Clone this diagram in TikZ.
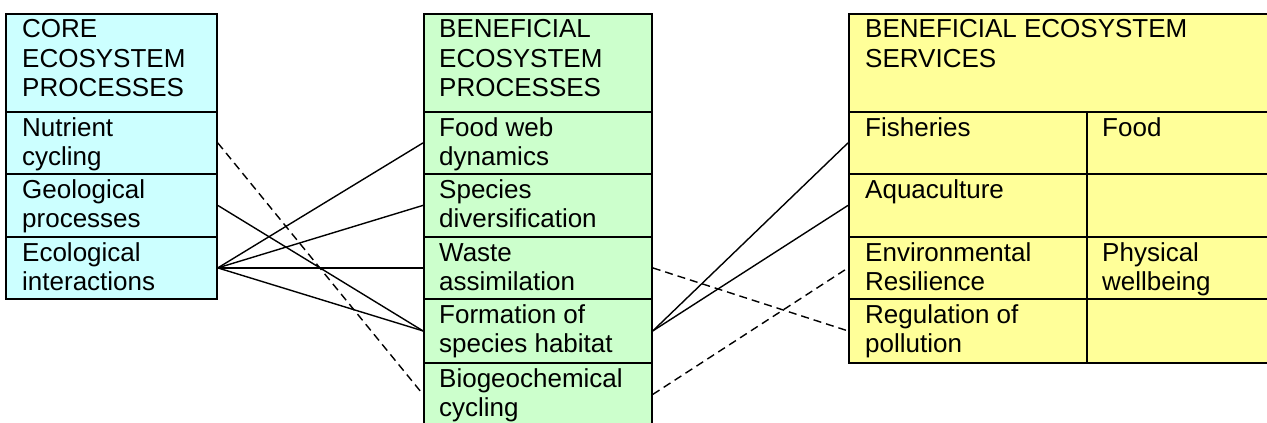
\documentclass[tikz,border=0pt]{standalone}
\usepackage{fontspec}
\setmainfont{Liberation Sans}
\definecolor{cyanfill}{HTML}{CCFFFF}
\definecolor{greenfill}{HTML}{CCFFCC}
\definecolor{yellowfill}{HTML}{FFFF99}
\newcommand{\fst}{\rule{0pt}{22pt}}
\begin{document}
\begin{tikzpicture}[x=1pt,y=-1pt,
  cell/.style={draw=black, line width=1.8pt, rectangle, inner sep=0pt, anchor=north west},
  ccell/.style={cell, fill=cyanfill, minimum width=211pt},
  gcell/.style={cell, fill=greenfill, minimum width=228pt},
  ycell/.style={cell, fill=yellowfill},
  txt/.style={anchor=north west, inner sep=0pt, align=left, font=\fontsize{26pt}{29.5pt}\selectfont},
  conn/.style={line width=1.4pt},
  dconn/.style={conn, dash pattern=on 8pt off 5pt}]
\clip (0,0) rectangle (1267,423);
% left table
\node[ccell, minimum height=98pt] (lh) at (5,13) {};
\node[ccell, minimum height=62pt] (nut) at (5,111) {};
\node[ccell, minimum height=63pt] (geo) at (5,173) {};
\node[ccell, minimum height=62pt] (eco) at (5,236) {};
\node[txt] (lht) at (22,15.3) {\fst CORE\\ECOSYSTEM\\PROCESSES};
\node[txt] (nutt) at (22,114) {\fst Nutrient\\cycling};
\node[txt] (geot) at (22,176) {\fst Geological\\processes};
\node[txt] (ecot) at (22,239) {\fst Ecological\\interactions};
% middle table
\node[gcell, minimum height=98pt] (mh) at (423,13) {};
\node[gcell, minimum height=62pt] (food) at (423,111) {};
\node[gcell, minimum height=63pt] (spec) at (423,173) {};
\node[gcell, minimum height=62pt] (waste) at (423,236) {};
\node[gcell, minimum height=64pt] (form) at (423,298) {};
\node[gcell, minimum height=63pt] (bio) at (423,362) {};
\node[txt] (mht) at (439,15.3) {\fst BENEFICIAL\\ECOSYSTEM\\PROCESSES};
\node[txt] (foodt) at (439,114) {\fst Food web\\dynamics};
\node[txt] (spect) at (439,176) {\fst Species\\diversification};
\node[txt] (wastet) at (439,239) {\fst Waste\\assimilation};
\node[txt] (formt) at (439,301) {\fst Formation of\\species habitat};
\node[txt] (biot) at (439,365) {\fst Biogeochemical\\cycling};
% right table
\node[ycell, minimum width=452pt, minimum height=98pt] (rh) at (848,13) {};
\node[ycell, minimum width=238pt, minimum height=62pt] (fish) at (848,111) {};
\node[ycell, minimum width=238pt, minimum height=63pt] (aqua) at (848,173) {};
\node[ycell, minimum width=238pt, minimum height=62pt] (env) at (848,236) {};
\node[ycell, minimum width=238pt, minimum height=64pt] (reg) at (848,298) {};
\node[ycell, minimum width=214pt, minimum height=62pt] (foodsvc) at (1086,111) {};
\node[ycell, minimum width=214pt, minimum height=63pt] (blank1) at (1086,173) {};
\node[ycell, minimum width=214pt, minimum height=62pt] (phys) at (1086,236) {};
\node[ycell, minimum width=214pt, minimum height=64pt] (blank2) at (1086,298) {};
\node[txt] (rht) at (865,15.3) {\fst BENEFICIAL ECOSYSTEM\\SERVICES};
\node[txt] (fisht) at (865,114) {\fst Fisheries};
\node[txt] (aquat) at (865,176) {\fst Aquaculture};
\node[txt] (envt) at (865,239) {\fst Environmental\\Resilience};
\node[txt] (regt) at (865,301) {\fst Regulation of\\pollution};
\node[txt] (foodsvct) at (1102,114) {\fst Food};
\node[txt] (physt) at (1102,239) {\fst Physical\\wellbeing};
% connectors
\draw[conn] (eco.east) -- (food.west);
\draw[conn] (eco.east) -- (spec.west);
\draw[conn] (eco.east) -- (waste.west);
\draw[conn] (eco.east) -- (form.west);
\draw[conn] (geo.east) -- (form.west);
\draw[dconn] (nut.east) -- (bio.west);
\draw[conn] (form.east) -- (fish.west);
\draw[conn] (form.east) -- (aqua.west);
\draw[dconn] (waste.east) -- (reg.west);
\draw[dconn] (bio.east) -- (env.west);
\end{tikzpicture}
\end{document}
